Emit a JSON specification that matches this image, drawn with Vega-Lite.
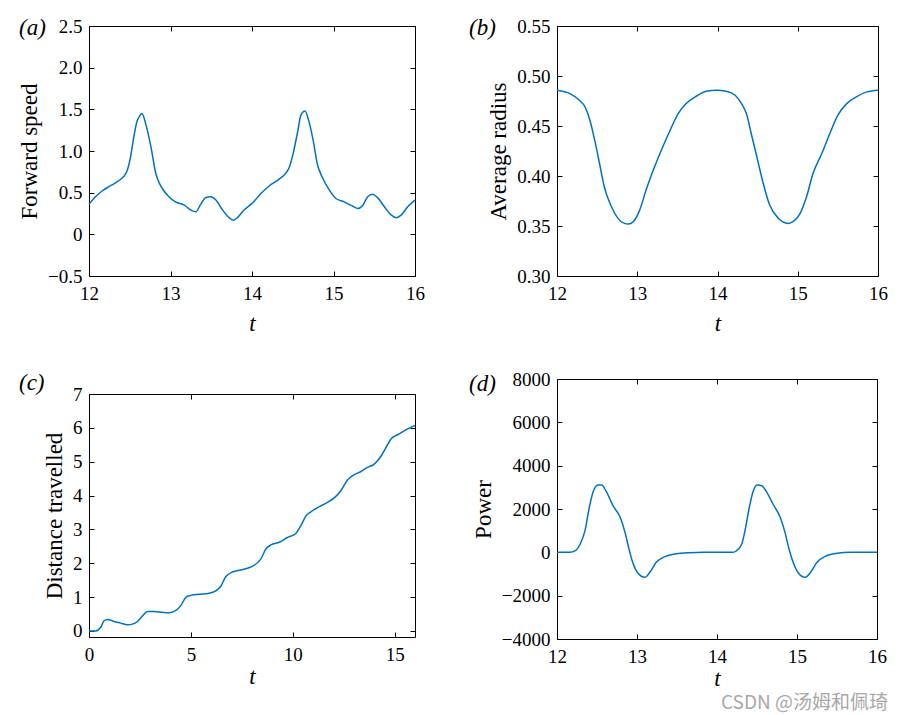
{
  "$schema": "https://vega.github.io/schema/vega-lite/v6.json",
  "background": "white",
  "padding": {"left": 18, "top": 16, "right": 10, "bottom": 1},
  "config": {
    "font": "Liberation Serif",
    "view": {"stroke": "black", "strokeWidth": 1},
    "axis": {"grid": false, "domain": false, "tickColor": "black", "tickSize": -5, "tickWidth": 1,
      "labelFont": "Liberation Serif", "labelFontSize": 19, "labelColor": "black", "labelFlush": false, "labelOverlap": false, "labelBound": false,
      "titleFont": "Liberation Serif", "titleFontSize": 23, "titleFontWeight": "normal", "titleColor": "black"},
    "axisX": {"titleFontStyle": "italic", "titlePadding": 9, "labelPadding": 13},
    "axisY": {"titlePadding": 6, "labelPadding": 12},
    "title": {"font": "Liberation Serif", "fontSize": 23, "fontWeight": "normal", "fontStyle": "italic", "color": "black", "anchor": "start", "frame": "group", "baseline": "middle", "offset": 0}
  },
  "datasets": {
    "a": [
      {"t":12.0,"v":0.36},{"t":12.08,"v":0.45},{"t":12.16,"v":0.52},{"t":12.25,"v":0.575},{"t":12.33,"v":0.62},{"t":12.4,"v":0.67},{"t":12.44,"v":0.71},{"t":12.47,"v":0.77},{"t":12.51,"v":0.93},{"t":12.55,"v":1.17},{"t":12.59,"v":1.36},{"t":12.61,"v":1.4},{"t":12.65,"v":1.45},{"t":12.7,"v":1.31},{"t":12.76,"v":1.05},{"t":12.82,"v":0.73},{"t":12.86,"v":0.62},{"t":12.9,"v":0.55},{"t":12.98,"v":0.45},{"t":13.06,"v":0.39},{"t":13.17,"v":0.35},{"t":13.25,"v":0.29},{"t":13.31,"v":0.27},{"t":13.37,"v":0.36},{"t":13.43,"v":0.44},{"t":13.49,"v":0.45},{"t":13.56,"v":0.41},{"t":13.64,"v":0.29},{"t":13.72,"v":0.2},{"t":13.77,"v":0.17},{"t":13.82,"v":0.2},{"t":13.9,"v":0.29},{"t":14.01,"v":0.38},{"t":14.11,"v":0.49},{"t":14.21,"v":0.58},{"t":14.33,"v":0.66},{"t":14.42,"v":0.74},{"t":14.46,"v":0.81},{"t":14.5,"v":0.95},{"t":14.56,"v":1.23},{"t":14.6,"v":1.43},{"t":14.65,"v":1.48},{"t":14.7,"v":1.35},{"t":14.75,"v":1.13},{"t":14.8,"v":0.85},{"t":14.87,"v":0.67},{"t":14.95,"v":0.53},{"t":15.03,"v":0.43},{"t":15.13,"v":0.39},{"t":15.21,"v":0.35},{"t":15.3,"v":0.31},{"t":15.36,"v":0.35},{"t":15.42,"v":0.45},{"t":15.48,"v":0.48},{"t":15.54,"v":0.44},{"t":15.64,"v":0.31},{"t":15.71,"v":0.23},{"t":15.77,"v":0.2},{"t":15.83,"v":0.23},{"t":15.91,"v":0.33},{"t":16.0,"v":0.41}
    ],
    "b": [
      {"t":12.0,"v":0.4858},{"t":12.16,"v":0.4824},{"t":12.28,"v":0.4758},{"t":12.35,"v":0.469},{"t":12.41,"v":0.4558},{"t":12.47,"v":0.4358},{"t":12.53,"v":0.4125},{"t":12.59,"v":0.389},{"t":12.68,"v":0.369},{"t":12.76,"v":0.3576},{"t":12.84,"v":0.3526},{"t":12.89,"v":0.352},{"t":12.95,"v":0.3543},{"t":13.03,"v":0.3659},{"t":13.11,"v":0.386},{"t":13.2,"v":0.4059},{"t":13.3,"v":0.4258},{"t":13.41,"v":0.4458},{"t":13.51,"v":0.4624},{"t":13.61,"v":0.4724},{"t":13.74,"v":0.48},{"t":13.86,"v":0.4848},{"t":13.99,"v":0.4858},{"t":14.11,"v":0.4848},{"t":14.22,"v":0.4808},{"t":14.3,"v":0.4724},{"t":14.36,"v":0.4624},{"t":14.42,"v":0.4425},{"t":14.49,"v":0.4192},{"t":14.57,"v":0.3925},{"t":14.65,"v":0.3709},{"t":14.76,"v":0.3576},{"t":14.84,"v":0.3533},{"t":14.89,"v":0.3526},{"t":14.94,"v":0.3543},{"t":15.03,"v":0.3626},{"t":15.11,"v":0.3792},{"t":15.19,"v":0.4025},{"t":15.3,"v":0.4225},{"t":15.4,"v":0.4425},{"t":15.5,"v":0.4608},{"t":15.61,"v":0.4724},{"t":15.73,"v":0.4791},{"t":15.86,"v":0.4841},{"t":16.0,"v":0.4858}
    ],
    "c": [
      {"t":0,"v":0},{"t":0.33,"v":0},{"t":0.57,"v":0.1},{"t":0.74,"v":0.3},{"t":0.9,"v":0.34},{"t":1.23,"v":0.28},{"t":1.56,"v":0.23},{"t":1.88,"v":0.18},{"t":2.13,"v":0.2},{"t":2.37,"v":0.27},{"t":2.62,"v":0.44},{"t":2.87,"v":0.57},{"t":3.19,"v":0.57},{"t":3.6,"v":0.55},{"t":3.93,"v":0.54},{"t":4.26,"v":0.61},{"t":4.5,"v":0.74},{"t":4.75,"v":0.99},{"t":5.0,"v":1.05},{"t":5.4,"v":1.08},{"t":5.9,"v":1.11},{"t":6.22,"v":1.18},{"t":6.47,"v":1.32},{"t":6.71,"v":1.6},{"t":7.04,"v":1.74},{"t":7.45,"v":1.8},{"t":7.78,"v":1.85},{"t":8.11,"v":1.94},{"t":8.43,"v":2.12},{"t":8.68,"v":2.42},{"t":8.93,"v":2.54},{"t":9.34,"v":2.62},{"t":9.74,"v":2.76},{"t":10.15,"v":2.88},{"t":10.4,"v":3.11},{"t":10.65,"v":3.4},{"t":10.89,"v":3.52},{"t":11.3,"v":3.67},{"t":11.71,"v":3.8},{"t":12.04,"v":3.93},{"t":12.36,"v":4.14},{"t":12.69,"v":4.46},{"t":12.94,"v":4.59},{"t":13.35,"v":4.71},{"t":13.67,"v":4.83},{"t":14.0,"v":4.93},{"t":14.33,"v":5.16},{"t":14.58,"v":5.42},{"t":14.82,"v":5.67},{"t":15.23,"v":5.82},{"t":15.64,"v":5.97},{"t":16.0,"v":6.07}
    ],
    "d": [
      {"t":12.0,"v":0},{"t":12.16,"v":0},{"t":12.23,"v":77},{"t":12.29,"v":385},{"t":12.35,"v":1000},{"t":12.4,"v":2000},{"t":12.45,"v":2769},{"t":12.51,"v":3108},{"t":12.56,"v":3108},{"t":12.61,"v":2846},{"t":12.7,"v":2154},{"t":12.79,"v":1615},{"t":12.85,"v":923},{"t":12.9,"v":154},{"t":12.95,"v":-508},{"t":13.01,"v":-954},{"t":13.1,"v":-1154},{"t":13.16,"v":-923},{"t":13.24,"v":-462},{"t":13.35,"v":-200},{"t":13.49,"v":-62},{"t":13.66,"v":-15},{"t":13.83,"v":0},{"t":14.2,"v":0},{"t":14.24,"v":62},{"t":14.31,"v":385},{"t":14.35,"v":1000},{"t":14.4,"v":2000},{"t":14.45,"v":2800},{"t":14.5,"v":3108},{"t":14.56,"v":3077},{"t":14.61,"v":2846},{"t":14.7,"v":2231},{"t":14.79,"v":1615},{"t":14.85,"v":923},{"t":14.9,"v":154},{"t":14.96,"v":-538},{"t":15.02,"v":-969},{"t":15.1,"v":-1154},{"t":15.17,"v":-923},{"t":15.25,"v":-462},{"t":15.35,"v":-185},{"t":15.5,"v":-46},{"t":15.67,"v":0},{"t":16.0,"v":0}
    ]
  },
  "title": {"text": "CSDN @汤姆和佩琦", "orient": "bottom", "anchor": "end", "frame": "bounds", "font": "Noto Sans CJK SC", "fontSize": 19, "fontStyle": "normal", "color": "#a8a8a8", "offset": 3, "baseline": "top"},
  "spacing": 43,
  "hconcat": [
    {
      "spacing": 35,
      "vconcat": [
        {
          "width": 326, "height": 250,
          "title": {"text": "(a)", "dx": -70, "dy": 27},
          "data": {"name": "a"},
          "layer": [
            {"mark": {"type": "line", "color": "#0072BD", "strokeWidth": 1.5, "interpolate": "monotone"},
             "encoding": {
               "x": {"field": "t", "type": "quantitative", "scale": {"domain": [12, 16], "nice": false, "zero": false}, "axis": {"title": "t", "values": [12, 13, 14, 15, 16], "format": "d"}},
               "y": {"field": "v", "type": "quantitative", "scale": {"domain": [-0.5, 2.5], "nice": false, "zero": false}, "axis": {"title": "Forward speed", "values": [-0.5, 0, 0.5, 1, 1.5, 2, 2.5], "labelExpr": "datum.value == 0 ? '0' : format(datum.value, '.1f')"}}
             }},
            {"mark": {"type": "line", "strokeOpacity": 0},
             "encoding": {
               "x": {"field": "t", "type": "quantitative", "axis": {"orient": "top", "labels": false, "title": null, "values": [12, 13, 14, 15, 16]}},
               "y": {"field": "v", "type": "quantitative", "axis": {"orient": "right", "labels": false, "title": null, "values": [-0.5, 0, 0.5, 1, 1.5, 2, 2.5]}}
             }}
          ],
          "resolve": {"axis": {"x": "independent", "y": "independent"}}
        },
        {
          "width": 326, "height": 243,
          "title": {"text": "(c)", "dx": -70, "dy": 14},
          "data": {"name": "c"},
          "layer": [
            {"mark": {"type": "line", "color": "#0072BD", "strokeWidth": 1.5, "interpolate": "monotone"},
             "encoding": {
               "x": {"field": "t", "type": "quantitative", "scale": {"domain": [0, 16], "nice": false, "zero": false}, "axis": {"title": "t", "titlePadding": 1, "values": [0, 5, 10, 15], "format": "d"}},
               "y": {"field": "v", "type": "quantitative", "scale": {"domain": [-0.18, 7], "nice": false, "zero": false}, "axis": {"title": "Distance travelled", "values": [0, 1, 2, 3, 4, 5, 6, 7], "format": "d"}}
             }},
            {"mark": {"type": "line", "strokeOpacity": 0},
             "encoding": {
               "x": {"field": "t", "type": "quantitative", "axis": {"orient": "top", "labels": false, "title": null, "values": [0, 5, 10, 15]}},
               "y": {"field": "v", "type": "quantitative", "axis": {"orient": "right", "labels": false, "title": null, "values": [0, 1, 2, 3, 4, 5, 6, 7]}}
             }}
          ],
          "resolve": {"axis": {"x": "independent", "y": "independent"}}
        }
      ]
    },
    {
      "spacing": 33,
      "vconcat": [
        {
          "width": 321, "height": 250,
          "title": {"text": "(b)", "dx": -88, "dy": 27},
          "data": {"name": "b"},
          "layer": [
            {"mark": {"type": "line", "color": "#0072BD", "strokeWidth": 1.5, "interpolate": "monotone"},
             "encoding": {
               "x": {"field": "t", "type": "quantitative", "scale": {"domain": [12, 16], "nice": false, "zero": false}, "axis": {"title": "t", "values": [12, 13, 14, 15, 16], "format": "d"}},
               "y": {"field": "v", "type": "quantitative", "scale": {"domain": [0.3, 0.55], "nice": false, "zero": false}, "axis": {"title": "Average radius", "values": [0.3, 0.35, 0.4, 0.45, 0.5, 0.55], "format": ".2f"}}
             }},
            {"mark": {"type": "line", "strokeOpacity": 0},
             "encoding": {
               "x": {"field": "t", "type": "quantitative", "axis": {"orient": "top", "labels": false, "title": null, "values": [12, 13, 14, 15, 16]}},
               "y": {"field": "v", "type": "quantitative", "axis": {"orient": "right", "labels": false, "title": null, "values": [0.3, 0.35, 0.4, 0.45, 0.5, 0.55]}}
             }}
          ],
          "resolve": {"axis": {"x": "independent", "y": "independent"}}
        },
        {
          "width": 320, "height": 260,
          "title": {"text": "(d)", "dx": -88, "dy": 30},
          "data": {"name": "d"},
          "layer": [
            {"mark": {"type": "line", "color": "#0072BD", "strokeWidth": 1.5, "interpolate": "monotone"},
             "encoding": {
               "x": {"field": "t", "type": "quantitative", "scale": {"domain": [12, 16], "nice": false, "zero": false}, "axis": {"title": "t", "titlePadding": 1, "values": [12, 13, 14, 15, 16], "format": "d"}},
               "y": {"field": "v", "type": "quantitative", "scale": {"domain": [-4000, 8000], "nice": false, "zero": false}, "axis": {"title": "Power", "values": [-4000, -2000, 0, 2000, 4000, 6000, 8000], "format": "d"}}
             }},
            {"mark": {"type": "line", "strokeOpacity": 0},
             "encoding": {
               "x": {"field": "t", "type": "quantitative", "axis": {"orient": "top", "labels": false, "title": null, "values": [12, 13, 14, 15, 16]}},
               "y": {"field": "v", "type": "quantitative", "axis": {"orient": "right", "labels": false, "title": null, "values": [-4000, -2000, 0, 2000, 4000, 6000, 8000]}}
             }}
          ],
          "resolve": {"axis": {"x": "independent", "y": "independent"}}
        }
      ]
    }
  ]
}
